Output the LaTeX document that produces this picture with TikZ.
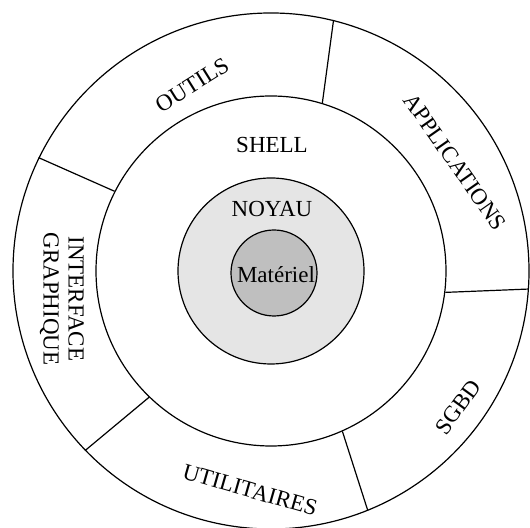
\documentclass[tikz,border=0pt]{standalone}
\usepackage{fontspec}
\setmainfont{Liberation Serif}
\usetikzlibrary{positioning}

\begin{document}
\begin{tikzpicture}[
  x=0.5pt, y=0.5pt,
  font=\fontsize{11.5}{12.5}\selectfont,
  layer/.style={circle, draw=black, line width=0.6pt, inner sep=0pt, fill=white},
  cut/.style={draw=black, line width=0.6pt},
  word/.style={inner sep=1pt, align=center}
]
\useasboundingbox (-271,-257) rectangle (259,271);

% rings, from the outside in
\node[layer, minimum size=258pt] (apps) at (0,0) {};
\node[layer, minimum size=175pt] (shell) at (0,0) {};
\node[layer, minimum size=93pt, fill=gray!20] (noyau) at (0,0) {};
\node[layer, minimum size=43pt, fill=gray!50] (hw) at (3,-2) {};

% sectors of the outer ring
\draw[cut] (apps.76) -- (shell.73);
\draw[cut] (apps.154) -- (shell.153);
\draw[cut] (apps.224) -- (shell.226);
\draw[cut] (apps.292.5) -- (shell.294);
\draw[cut] (apps.-4.9) -- (shell.-7.2);

\node[word] (shelltxt) at (1,126) {SHELL};
\node[word] (noyautxt) at (1,62) {NOYAU};
\node[word] (hwtxt) at (5,-4) {Matériel};

\node[word, rotate=32] (outils) at (-79,186) {OUTILS};
\node[word, rotate=-55] (applis) at (184,109) {APPLICATIONS};
\node[word, rotate=54] (sgbd) at (187,-136) {SGBD};
\node[word, rotate=-16] (utils) at (-21,-219) {UTILITAIRES};
\node[word, rotate=-90] (gui) at (-209,-28) {INTERFACE\\GRAPHIQUE};
\end{tikzpicture}
\end{document}
